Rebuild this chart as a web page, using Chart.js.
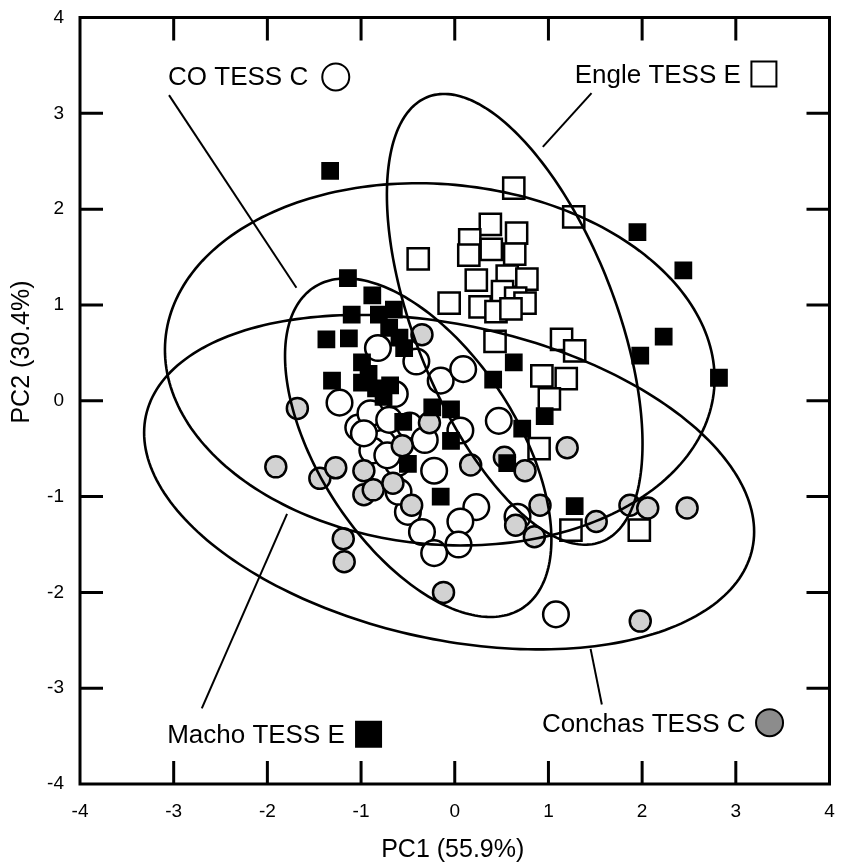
<!DOCTYPE html>
<html>
<head>
<meta charset="utf-8">
<script src="https://cdn.jsdelivr.net/npm/chart.js@4.4.1/dist/chart.umd.min.js"></script>
<style>
  html, body { margin: 0; padding: 0; background: #fff; overflow: hidden; }
  #pca { display: block; }
</style>
</head>
<body>
<canvas id="pca" width="847" height="866"></canvas>
<script>
// PCA scores, [PC1, PC2]
const machoPts = [
    [-1.33, 2.40], [-1.14, 1.28], [-0.88, 1.10], [-1.10, 0.90], [-0.81, 0.90], [-0.65, 0.95],
    [-0.70, 0.76], [-1.37, 0.64], [-1.13, 0.65], [-0.59, 0.66], [-0.54, 0.55], [-0.99, 0.40],
    [-0.92, 0.28], [-1.31, 0.21], [-0.99, 0.19], [-0.84, 0.13], [-0.76, 0.04], [-0.69, 0.16],
    [-0.55, -0.22], [-0.24, -0.07], [-0.04, -0.09], [-0.04, -0.42], [-0.50, -0.66], [-0.15, -1.00],
    [0.63, 0.40], [0.41, 0.22], [0.96, -0.16], [0.72, -0.29], [0.56, -0.65], [1.28, -1.10],
    [1.98, 0.47], [2.23, 0.67], [2.82, 0.24], [1.95, 1.76], [2.44, 1.36]
];
const englePts = [
    [0.63, 2.22], [1.27, 1.92], [-0.39, 1.48], [0.38, 1.84], [0.66, 1.75], [0.16, 1.68],
    [0.39, 1.58], [0.64, 1.53], [0.15, 1.52], [0.23, 1.26], [0.56, 1.30], [0.77, 1.27],
    [-0.06, 1.02], [0.27, 0.98], [0.51, 1.14], [0.65, 1.07], [0.75, 1.02], [0.44, 0.93],
    [0.60, 0.96], [0.43, 0.62], [1.14, 0.64], [1.28, 0.52], [0.93, 0.26], [1.19, 0.23],
    [1.01, 0.02], [0.90, -0.50], [1.24, -1.35], [1.97, -1.35]
];
const coPts = [
    [-0.82, 0.55], [-0.41, 0.41], [-0.15, 0.21], [0.09, 0.33], [-1.23, -0.02], [-1.03, -0.28],
    [-0.90, -0.13], [-0.77, -0.44], [-0.88, -0.52], [-0.64, 0.07], [-0.48, -0.26], [-0.22, -0.73],
    [-0.61, -0.65], [0.47, -0.21], [0.06, -0.31], [-0.50, -1.16], [0.23, -1.11], [-0.35, -1.37],
    [0.06, -1.26], [-0.22, -1.59], [0.04, -1.50], [1.08, -2.23], [0.67, -1.21], [-0.97, -0.34],
    [-0.72, -0.57], [-0.32, -0.41], [-0.70, -0.20], [-0.60, -0.95]
];
const conchasPts = [
    [-1.68, -0.08], [-1.91, -0.69], [-1.44, -0.81], [-1.27, -0.70], [-1.19, -1.44], [-1.18, -1.68],
    [-0.97, -0.73], [-0.97, -0.98], [-0.87, -0.93], [-0.66, -0.86], [-0.56, -0.47], [-0.27, -0.23],
    [-0.35, 0.69], [-0.46, -1.09], [-0.12, -2.00], [0.17, -0.67], [0.53, -0.59], [0.75, -0.73],
    [1.20, -0.49], [0.65, -1.30], [0.91, -1.09], [0.85, -1.42], [1.51, -1.26], [1.87, -1.09],
    [2.06, -1.12], [2.48, -1.12], [1.98, -2.30]
];

// ellipses: [centre x, centre y, semi-major, semi-minor, angle deg]
const machoEllipse = [-0.16, 0.38, 2.94, 1.88, -5];
const conchasEllipse = [-0.06, -0.85, 3.31, 1.64, -12];
const coEllipse = [-0.39, -0.49, 2.01, 1.05, -56];
const engleEllipse = [0.64, 0.85, 2.5, 1.07, -68];

const axisTicks = [-4, -3, -2, -1, 0, 1, 2, 3, 4];
const xTitle = 'PC1 (55.9%)';
const yTitle = 'PC2 (30.4%)';

// group labels: text, text start [x,y], leader from/to, symbol centre
const labels = [
    { text: 'CO TESS C', at: [-3.06, 3.30], lead: [[-3.05, 3.19], [-1.69, 1.18]], sym: [-1.27, 3.38], shape: 'circle', fill: '#fff' },
    { text: 'Engle TESS E', at: [1.28, 3.32], lead: [[1.46, 3.21], [0.94, 2.65]], sym: [3.30, 3.41], shape: 'rect', fill: '#fff' },
    { text: 'Macho TESS E', at: [-3.07, -3.57], lead: [[-1.79, -1.18], [-2.70, -3.21]], sym: [-0.92, -3.48], shape: 'rect', fill: '#000' },
    { text: 'Conchas TESS C', at: [0.93, -3.46], lead: [[1.45, -2.59], [1.57, -3.17]], sym: [3.36, -3.36], shape: 'circle', fill: '#8c8c8c' }
];

const FONT = '"Liberation Sans", Arial, sans-serif';

function toXY(pts) {
    return pts.map(p => ({ x: p[0], y: p[1] }));
}

const framePlugin = {
    id: 'frame',
    afterDatasetsDraw(chart) {
        const ctx = chart.ctx;
        const xs = chart.scales.x;
        const ys = chart.scales.y;
        const area = chart.chartArea;
        ctx.save();
        ctx.strokeStyle = '#000';
        ctx.fillStyle = '#000';

        // ellipses
        ctx.lineWidth = 2.6;
        [machoEllipse, conchasEllipse, coEllipse, engleEllipse].forEach(e => {
            const [cx, cy, a, b, ang] = e;
            const t = ang * Math.PI / 180;
            ctx.beginPath();
            for (let i = 0; i <= 240; i++) {
                const s = i / 240 * Math.PI * 2;
                const ex = a * Math.cos(s), ey = b * Math.sin(s);
                const px = xs.getPixelForValue(cx + ex * Math.cos(t) - ey * Math.sin(t));
                const py = ys.getPixelForValue(cy + ex * Math.sin(t) + ey * Math.cos(t));
                if (i === 0) ctx.moveTo(px, py); else ctx.lineTo(px, py);
            }
            ctx.closePath();
            ctx.stroke();
        });

        // frame
        ctx.lineWidth = 3;
        ctx.strokeRect(area.left, area.top, area.right - area.left, area.bottom - area.top);

        // inward ticks on all four sides
        const tl = 23;
        ctx.beginPath();
        axisTicks.slice(1, -1).forEach(v => {
            const px = xs.getPixelForValue(v);
            ctx.moveTo(px, area.bottom); ctx.lineTo(px, area.bottom - tl);
            ctx.moveTo(px, area.top); ctx.lineTo(px, area.top + tl);
            const py = ys.getPixelForValue(v);
            ctx.moveTo(area.left, py); ctx.lineTo(area.left + tl, py);
            ctx.moveTo(area.right, py); ctx.lineTo(area.right - tl, py);
        });
        ctx.stroke();

        // tick labels
        ctx.font = '19px ' + FONT;
        ctx.textBaseline = 'middle';
        ctx.textAlign = 'center';
        axisTicks.forEach(v => ctx.fillText(String(v), xs.getPixelForValue(v), area.bottom + 28));
        ctx.textAlign = 'right';
        axisTicks.forEach(v => ctx.fillText(String(v), area.left - 16, ys.getPixelForValue(v)));

        // axis titles
        ctx.font = '25px ' + FONT;
        ctx.textAlign = 'center';
        ctx.fillText(xTitle, (area.left + area.right) / 2 - 2, area.bottom + 66);
        ctx.save();
        ctx.translate(22, 352);
        ctx.rotate(-Math.PI / 2);
        ctx.fillText(yTitle, 0, 0);
        ctx.restore();

        // group labels with leader lines
        ctx.font = '26px ' + FONT;
        ctx.textAlign = 'left';
        ctx.textBaseline = 'alphabetic';
        labels.forEach(l => {
            ctx.lineWidth = 2;
            ctx.beginPath();
            ctx.moveTo(xs.getPixelForValue(l.lead[0][0]), ys.getPixelForValue(l.lead[0][1]));
            ctx.lineTo(xs.getPixelForValue(l.lead[1][0]), ys.getPixelForValue(l.lead[1][1]));
            ctx.stroke();
            ctx.fillStyle = '#000';
            ctx.fillText(l.text, xs.getPixelForValue(l.at[0]), ys.getPixelForValue(l.at[1]));
            const sx = xs.getPixelForValue(l.sym[0]);
            const sy = ys.getPixelForValue(l.sym[1]);
            ctx.fillStyle = l.fill;
            ctx.beginPath();
            if (l.shape === 'circle') {
                ctx.arc(sx, sy, 13.5, 0, Math.PI * 2);
            } else {
                ctx.rect(sx - 12.5, sy - 12.5, 25, 25);
            }
            ctx.fill();
            ctx.stroke();
        });
        ctx.restore();
    }
};

new Chart(document.getElementById('pca'), {
    type: 'scatter',
    data: {
        datasets: [
            { label: 'Macho TESS E', data: toXY(machoPts), pointStyle: 'rect', pointRadius: 11.5,
              backgroundColor: '#000', borderColor: '#000', borderWidth: 1.5, order: 1 },
            { label: 'Engle TESS E', data: toXY(englePts), pointStyle: 'rect', pointRadius: 15,
              backgroundColor: '#fff', borderColor: '#000', borderWidth: 2.5, order: 2 },
            { label: 'Conchas TESS C', data: toXY(conchasPts), pointStyle: 'circle', pointRadius: 10.5,
              backgroundColor: '#d2d2d2', borderColor: '#000', borderWidth: 2.5, order: 3 },
            { label: 'CO TESS C', data: toXY(coPts), pointStyle: 'circle', pointRadius: 12.8,
              backgroundColor: '#fff', borderColor: '#000', borderWidth: 2.5, order: 4 }
        ]
    },
    options: {
        responsive: false,
        animation: false,
        events: [],
        layout: { padding: { left: 80, right: 4, top: 16, bottom: 82 } },
        plugins: { legend: { display: false }, tooltip: { enabled: false } },
        scales: {
            x: { type: 'linear', min: -4, max: 4, display: false },
            y: { type: 'linear', min: -4, max: 4, display: false }
        }
    },
    plugins: [framePlugin]
});
</script>
</body>
</html>
